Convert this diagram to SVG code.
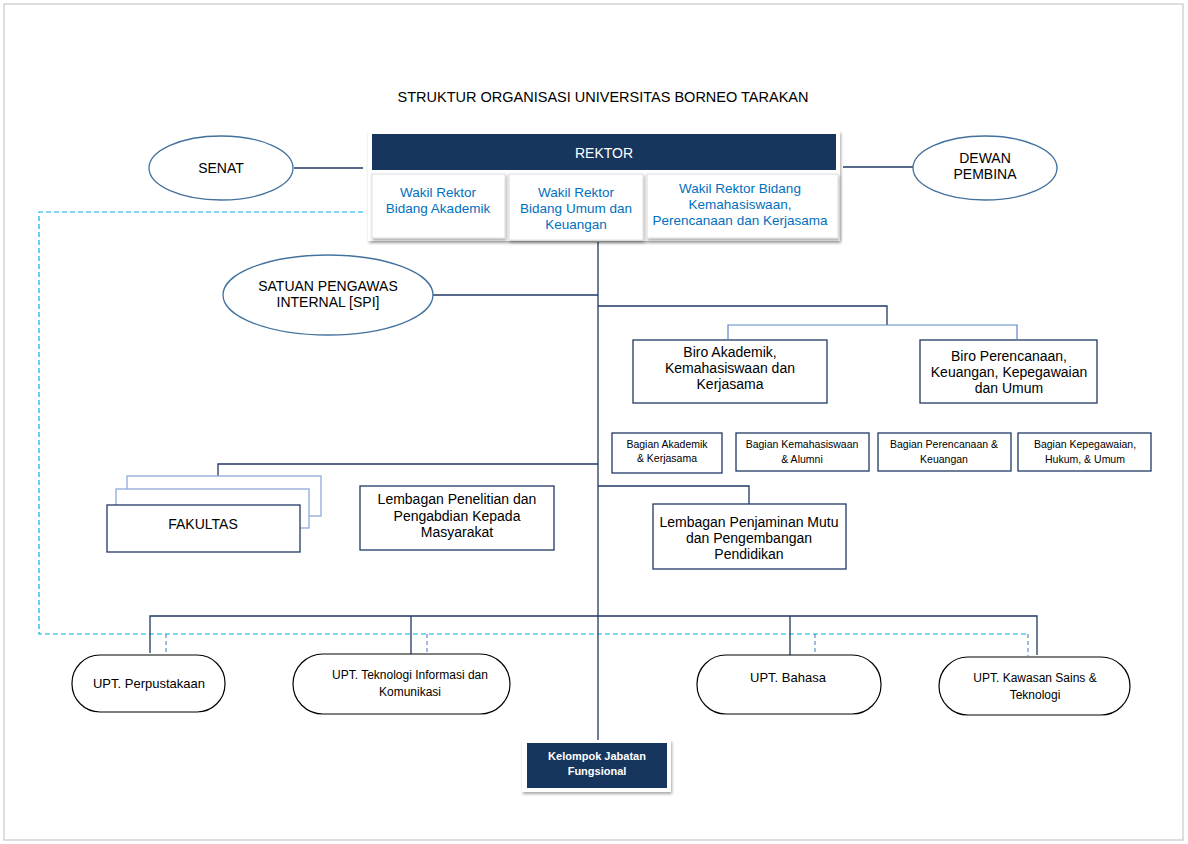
<svg xmlns="http://www.w3.org/2000/svg" width="1188" height="844" viewBox="0 0 1188 844">
<defs>
<filter id="sh" x="-10%" y="-10%" width="120%" height="130%">
<feDropShadow dx="1" dy="2" stdDeviation="1.5" flood-color="#000" flood-opacity="0.35"/>
</filter>
<style>
text{font-family:"Liberation Sans",Arial,sans-serif;fill:#000;text-anchor:middle}
.t14{font-size:14px}
.t13{font-size:13px}
.t12{font-size:12px}
.t10{font-size:10.5px}
.wk{font-size:13.5px;fill:#0070C0}
.wh{fill:#fff}
.box{fill:#fff;stroke:#1F3864;stroke-width:1.3}
.ell{fill:#fff;stroke:#41719C;stroke-width:1.3}
.upt{fill:#fff;stroke:#000;stroke-width:1.2}
.ln{fill:none;stroke:#1F3864;stroke-width:1.3}
.lt{fill:none;stroke:#5B87C5;stroke-width:1.2}
.ds{fill:none;stroke:#00B0F0;stroke-width:1.2;stroke-dasharray:5 3}
.ds2{fill:none;stroke:#4472C4;stroke-width:1;stroke-dasharray:4 3}
.fk{fill:#fff;stroke:#8EA9DB;stroke-width:1.3}
</style>
</defs>
<rect x="4" y="4" width="1179" height="836" fill="#fff" stroke="#c8c8c8" stroke-width="1.2"/>
<text x="603" y="102" style="font-size:14.5px">STRUKTUR ORGANISASI UNIVERSITAS BORNEO TARAKAN</text>

<g id="connectors">
<path class="ds" d="M363 212 H39 V634 H1028"/>
<path class="ds2" d="M166 634 V653 M427 634 V655 M815 634 V655 M1028 634 V656"/>
<path class="ln" d="M294 168 H363"/>
<path class="ln" d="M843 167 H913"/>
<path class="ln" d="M598 242 V740"/>
<path class="ln" d="M433 295 H598"/>
<path class="ln" d="M598 306 H887 V325"/>
<path class="lt" d="M728 339 V325 H1017 V339"/>
<path class="ln" d="M598 464 H218 V485"/>
<path class="ln" d="M598 486 H749 V504"/>
<path class="ln" d="M150 653 V616 H1037 V655 M411 616 V654 M790 616 V655"/>
</g>

<g id="rektor">
<rect x="368" y="131" width="472" height="110" fill="#fff" filter="url(#sh)"/>
<rect x="372" y="134" width="464" height="36" fill="#17365D"/>
<text x="604" y="158" class="t14 wh">REKTOR</text>
</g>
<g id="wr1">
<rect x="372" y="174" width="133" height="64" fill="#fff" stroke="#ddd" filter="url(#sh)"/>
<text x="438" y="197" class="wk">Wakil Rektor</text>
<text x="438" y="213" class="wk">Bidang Akademik</text>
</g>
<g id="wr2">
<rect x="509" y="174" width="134" height="66" fill="#fff" stroke="#ddd" filter="url(#sh)"/>
<text x="576" y="197" class="wk">Wakil Rektor</text>
<text x="576" y="213" class="wk">Bidang Umum dan</text>
<text x="576" y="229" class="wk">Keuangan</text>
</g>
<g id="wr3">
<rect x="647" y="174" width="191" height="64" fill="#fff" stroke="#ddd" filter="url(#sh)"/>
<text x="740" y="193" class="wk">Wakil Rektor Bidang</text>
<text x="740" y="209" class="wk">Kemahasiswaan,</text>
<text x="740" y="225" class="wk">Perencanaan dan Kerjasama</text>
</g>

<g id="senat">
<ellipse cx="221" cy="168" rx="72" ry="32" class="ell"/>
<text x="221" y="173" class="t14">SENAT</text>
</g>
<g id="dewan">
<ellipse cx="985" cy="168" rx="72" ry="32" class="ell"/>
<text x="985" y="163" class="t14">DEWAN</text>
<text x="985" y="179" class="t14">PEMBINA</text>
</g>
<g id="spi">
<ellipse cx="328" cy="295" rx="105" ry="40" class="ell"/>
<text x="328" y="291" class="t14">SATUAN PENGAWAS</text>
<text x="328" y="307" class="t14">INTERNAL [SPI]</text>
</g>

<g id="biro1">
<rect x="633" y="340" width="194" height="63" class="box"/>
<text x="730" y="357" class="t14">Biro Akademik,</text>
<text x="730" y="373" class="t14">Kemahasiswaan dan</text>
<text x="730" y="389" class="t14">Kerjasama</text>
</g>
<g id="biro2">
<rect x="920" y="340" width="177" height="63" class="box"/>
<text x="1009" y="361" class="t14">Biro Perencanaan,</text>
<text x="1009" y="377" class="t14">Keuangan, Kepegawaian</text>
<text x="1009" y="393" class="t14">dan Umum</text>
</g>

<g id="bag1">
<rect x="612" y="433" width="110" height="40" class="box"/>
<text x="667" y="448" class="t10">Bagian Akademik</text>
<text x="667" y="462" class="t10">&amp; Kerjasama</text>
</g>
<g id="bag2">
<rect x="736" y="433" width="133" height="38" class="box"/>
<text x="802" y="448" class="t10">Bagian Kemahasiswaan</text>
<text x="802" y="463" class="t10">&amp; Alumni</text>
</g>
<g id="bag3">
<rect x="878" y="433" width="133" height="38" class="box"/>
<text x="944" y="448" class="t10">Bagian Perencanaan &amp;</text>
<text x="944" y="463" class="t10">Keuangan</text>
</g>
<g id="bag4">
<rect x="1018" y="433" width="133" height="38" class="box"/>
<text x="1085" y="448" class="t10">Bagian Kepegawaian,</text>
<text x="1085" y="463" class="t10">Hukum, &amp; Umum</text>
</g>

<g id="fakultas">
<rect x="127" y="476" width="194" height="40" class="fk"/>
<rect x="116" y="489" width="193" height="39" class="fk"/>
<rect x="107" y="505" width="193" height="47" class="box"/>
<text x="203" y="529" class="t14">FAKULTAS</text>
</g>
<g id="lppm">
<rect x="360" y="486" width="194" height="64" class="box"/>
<text x="457" y="504" class="t14">Lembagan Penelitian  dan</text>
<text x="457" y="521" class="t14">Pengabdian Kepada</text>
<text x="457" y="537" class="t14">Masyarakat</text>
</g>
<g id="lpmpp">
<rect x="653" y="504" width="193" height="65" class="box"/>
<text x="749" y="527" class="t14">Lembagan Penjaminan Mutu</text>
<text x="749" y="543" class="t14">dan Pengembangan</text>
<text x="749" y="559" class="t14">Pendidikan</text>
</g>

<g id="upt1">
<rect x="72" y="655" width="153" height="57" rx="28" class="upt"/>
<text x="149" y="688" class="t13">UPT. Perpustakaan</text>
</g>
<g id="upt2">
<rect x="293" y="654" width="217" height="60" rx="30" class="upt"/>
<text x="410" y="679" class="t12">UPT. Teknologi Informasi dan</text>
<text x="410" y="696" class="t12">Komunikasi</text>
</g>
<g id="upt3">
<rect x="697" y="655" width="184" height="59" rx="29" class="upt"/>
<text x="788" y="682" class="t13">UPT. Bahasa</text>
</g>
<g id="upt4">
<rect x="939" y="657" width="191" height="58" rx="29" class="upt"/>
<text x="1035" y="682" class="t12">UPT. Kawasan Sains &amp;</text>
<text x="1035" y="699" class="t12">Teknologi</text>
</g>

<g id="kjf">
<rect x="522" y="740" width="149" height="52" fill="#fff" filter="url(#sh)"/>
<rect x="527" y="743" width="140" height="45" fill="#17365D"/>
<text x="597" y="760" class="wh" style="font-size:11px;font-weight:bold">Kelompok Jabatan</text>
<text x="597" y="775" class="wh" style="font-size:11px;font-weight:bold">Fungsional</text>
</g>
</svg>
